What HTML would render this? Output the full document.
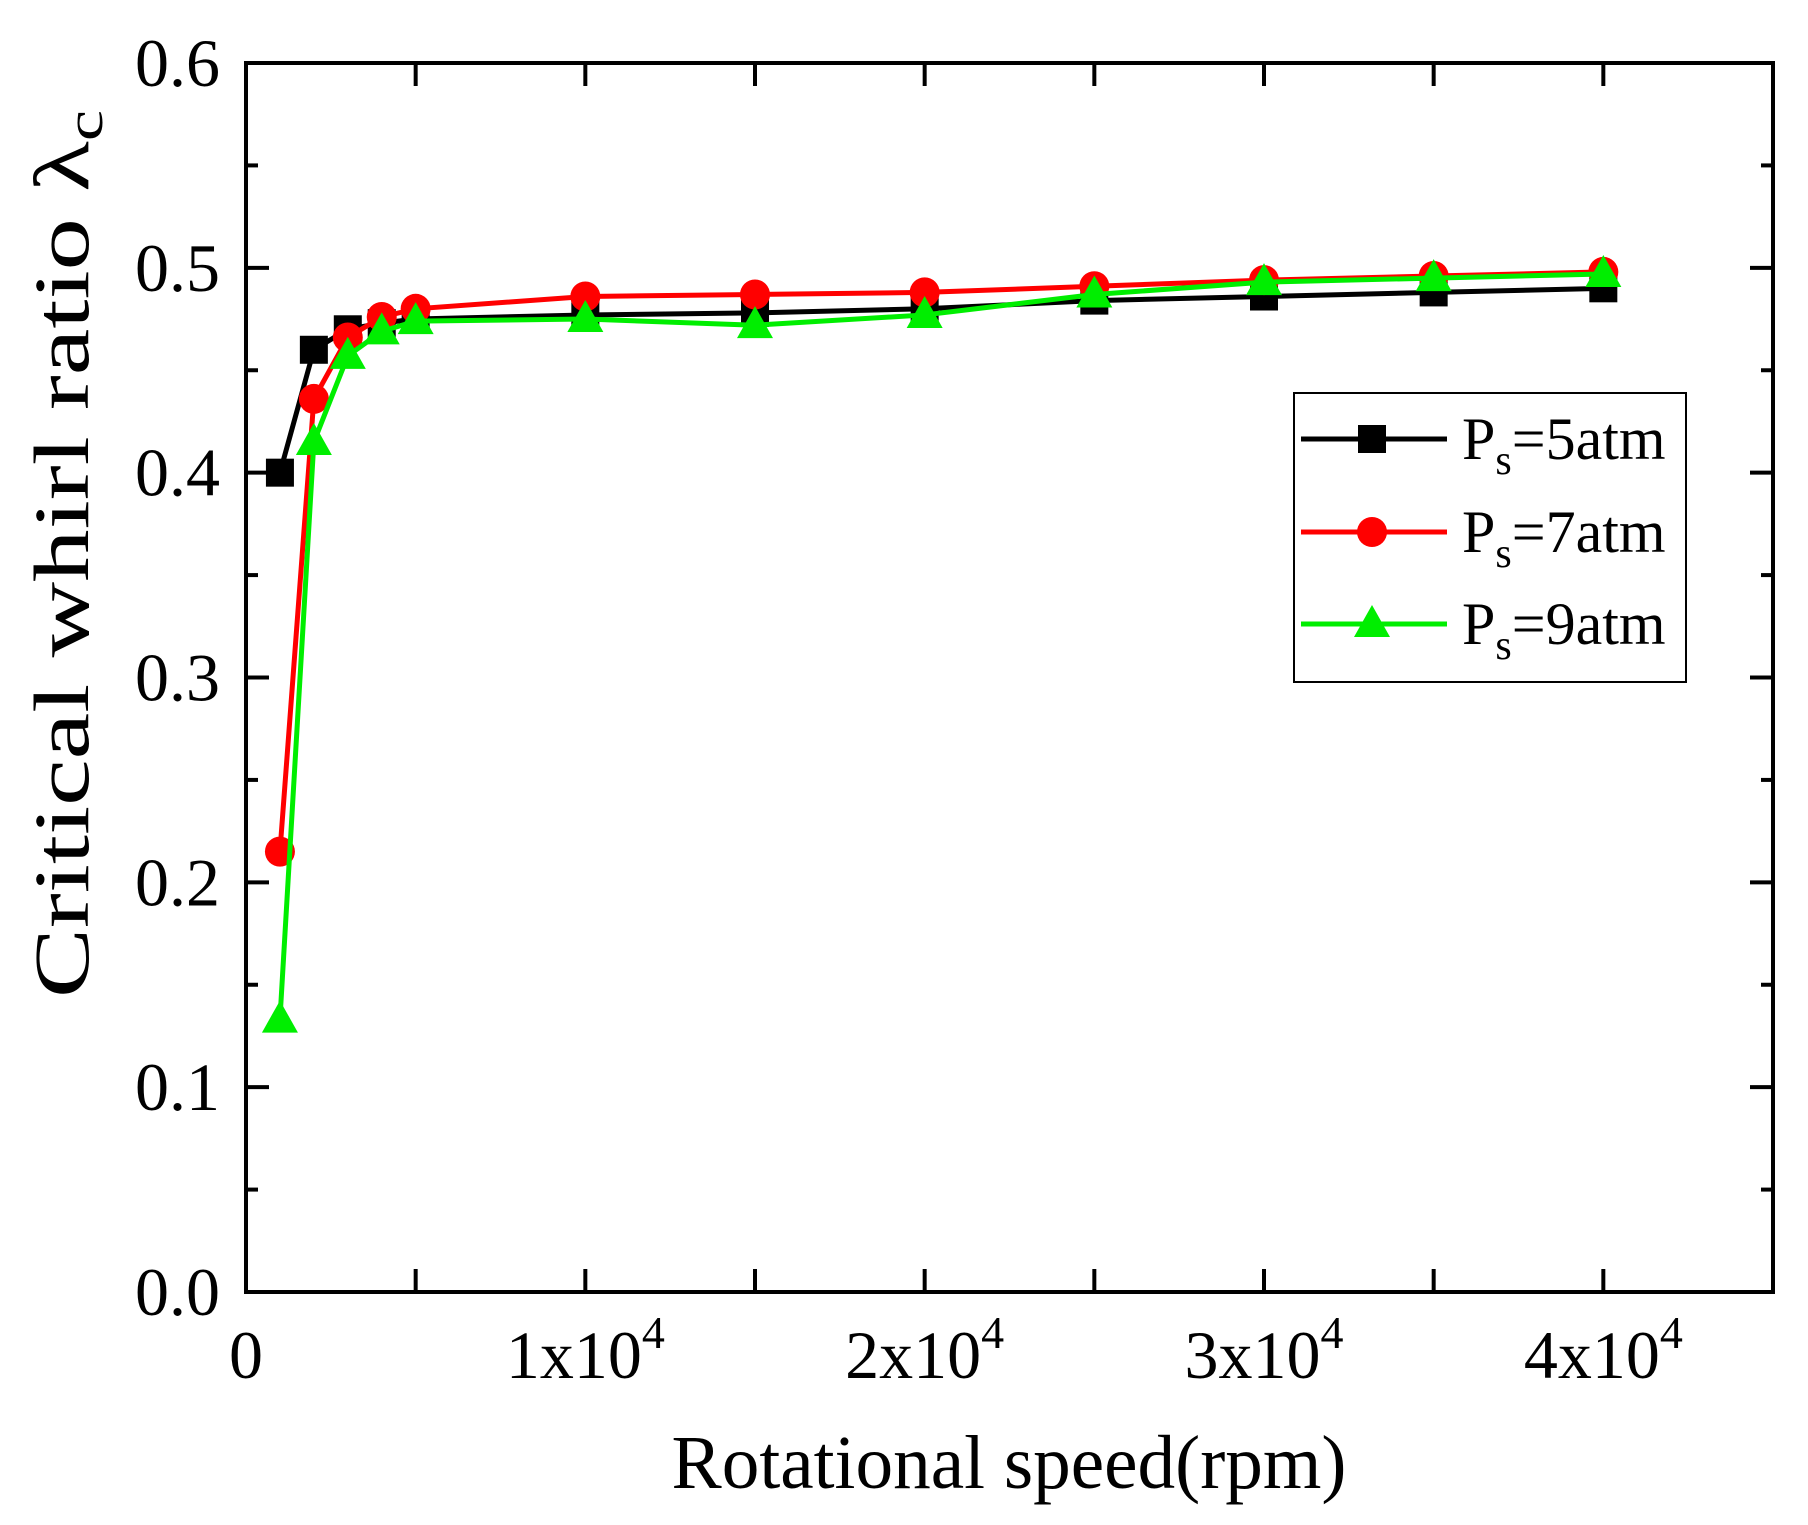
<!DOCTYPE html>
<html><head><meta charset="utf-8"><style>
html,body{margin:0;padding:0;background:#fff}
svg{display:block}
text{font-family:"Liberation Serif",serif;fill:#000}
</style></head><body>
<svg id="chart" width="1808" height="1525" viewBox="0 0 1808 1525">
<g id="grid"></g><g id="series"></g>
<rect x="246" y="63" width="1527" height="1229" fill="none" stroke="#000" stroke-width="4"/>
<g id="ticks"></g>
<text x="1009" y="1488" font-size="76" text-anchor="middle" textLength="675" lengthAdjust="spacingAndGlyphs">Rotational speed(rpm)</text>
<text transform="translate(88,554) rotate(-90)" font-size="78" text-anchor="middle" textLength="888" lengthAdjust="spacingAndGlyphs">Critical whirl ratio λ<tspan font-size="52" dy="14">c</tspan></text>
<g>
<rect x="1294" y="393" width="392" height="289" fill="#fff" stroke="#000" stroke-width="2"/>
<g id="legend"></g>
</g>
</svg>
<script>
const xValues=[1000,2000,3000,4000,5000,10000,15000,20000,25000,30000,35000,40000];
const ps5=[0.400,0.460,0.470,0.473,0.475,0.477,0.478,0.480,0.484,0.486,0.488,0.490];
const ps7=[0.215,0.436,0.466,0.476,0.480,0.486,0.487,0.488,0.491,0.494,0.496,0.498];
const ps9=[0.133,0.415,0.457,0.469,0.474,0.475,0.472,0.477,0.487,0.493,0.495,0.497];
const yTicks=[0,0.1,0.2,0.3,0.4,0.5,0.6];
const yTickLabels=["0.0","0.1","0.2","0.3","0.4","0.5","0.6"];
const xTicks=[0,10000,20000,30000,40000];
const xTickLabels=["0","1","2","3","4"];
const seriesNames=["5","7","9"];

const NS="http://www.w3.org/2000/svg";
const X0=246,X1=1773,Y0=1292,Y1=63,XMAX=45000,YMAX=0.6;
const sx=v=>X0+v/XMAX*(X1-X0);
const sy=v=>Y0-v/YMAX*(Y0-Y1);
function mk(tag,attrs,parent){const e=document.createElementNS(NS,tag);for(const k in attrs)e.setAttribute(k,attrs[k]);parent.appendChild(e);return e;}
const ticks=document.getElementById('ticks');
for(let v=0;v<=0.6001;v+=0.05){
  const major=Math.abs(v*10-Math.round(v*10))<1e-6;const L=major?23:12;const y=sy(v);
  const t1=mk('line',{x1:X0,x2:X0+L,y1:y,y2:y,stroke:'#000','stroke-width':4},ticks);
  
  
  const t2=mk('line',{x1:X1,x2:X1-L,y1:y,y2:y,stroke:'#000','stroke-width':4},ticks);
  
  
}
yTicks.forEach((v,i)=>{
  const t=mk('text',{x:220,y:sy(v)+23,'font-size':68,'text-anchor':'end'},ticks);t.textContent=yTickLabels[i];
  
  
});
for(let v=5000;v<XMAX;v+=5000){
  const x=sx(v);
  const t1=mk('line',{x1:x,x2:x,y1:Y0,y2:Y0-23,stroke:'#000','stroke-width':4},ticks);
  
  
  const t2=mk('line',{x1:x,x2:x,y1:Y1,y2:Y1+23,stroke:'#000','stroke-width':4},ticks);
  
  
}
xTicks.forEach((v,i)=>{
  const t=mk('text',{x:sx(v),y:1378,'font-size':68,'text-anchor':'middle'},ticks);
  if(v===0){t.textContent='0';}else{
    t.textContent=xTickLabels[i]+'x10';
    const s=mk('tspan',{'font-size':46,dy:-30},t);s.textContent='4';
  }
  
  
});
const colors=['#000','#ff0000','#00ee00'];
const data=[ps5,ps7,ps9];
const sg=document.getElementById('series');
function marker(kind,x,y,color,parent){
  let m;
  if(kind===0)m=mk('rect',{x:x-14,y:y-14,width:28,height:28,fill:color},parent);
  else if(kind===1)m=mk('circle',{cx:x,cy:y,r:15,fill:color},parent);
  else m=mk('polygon',{points:`${x},${y-19} ${x-18},${y+13} ${x+18},${y+13}`,fill:color},parent);
  return m;
}
data.forEach((arr,k)=>{
  const g=mk('g',{},sg);
  
  
  const pl=mk('polyline',{points:arr.map((v,i)=>sx(xValues[i])+','+sy(v)).join(' '),fill:'none',stroke:colors[k],'stroke-width':5},g);
  
  
  arr.forEach((v,i)=>{
    const m=marker(k,sx(xValues[i]),sy(v),colors[k],g);
    
    
  });
});
const lg=document.getElementById('legend');
[439,532,624].forEach((y,k)=>{
  const g=mk('g',{},lg);
  
  
  mk('line',{x1:1301,x2:1447,y1:y,y2:y,stroke:colors[k],'stroke-width':5},g);
  marker(k,1372,y,colors[k],g);
  const t=mk('text',{x:1462,y:y+20,'font-size':60},g);
  t.textContent='P';
  const s=mk('tspan',{'font-size':42,dy:15},t);s.textContent='s';
  const r=mk('tspan',{dy:-15},t);r.textContent='='+seriesNames[k]+'atm';
});
</script>
</body></html>
